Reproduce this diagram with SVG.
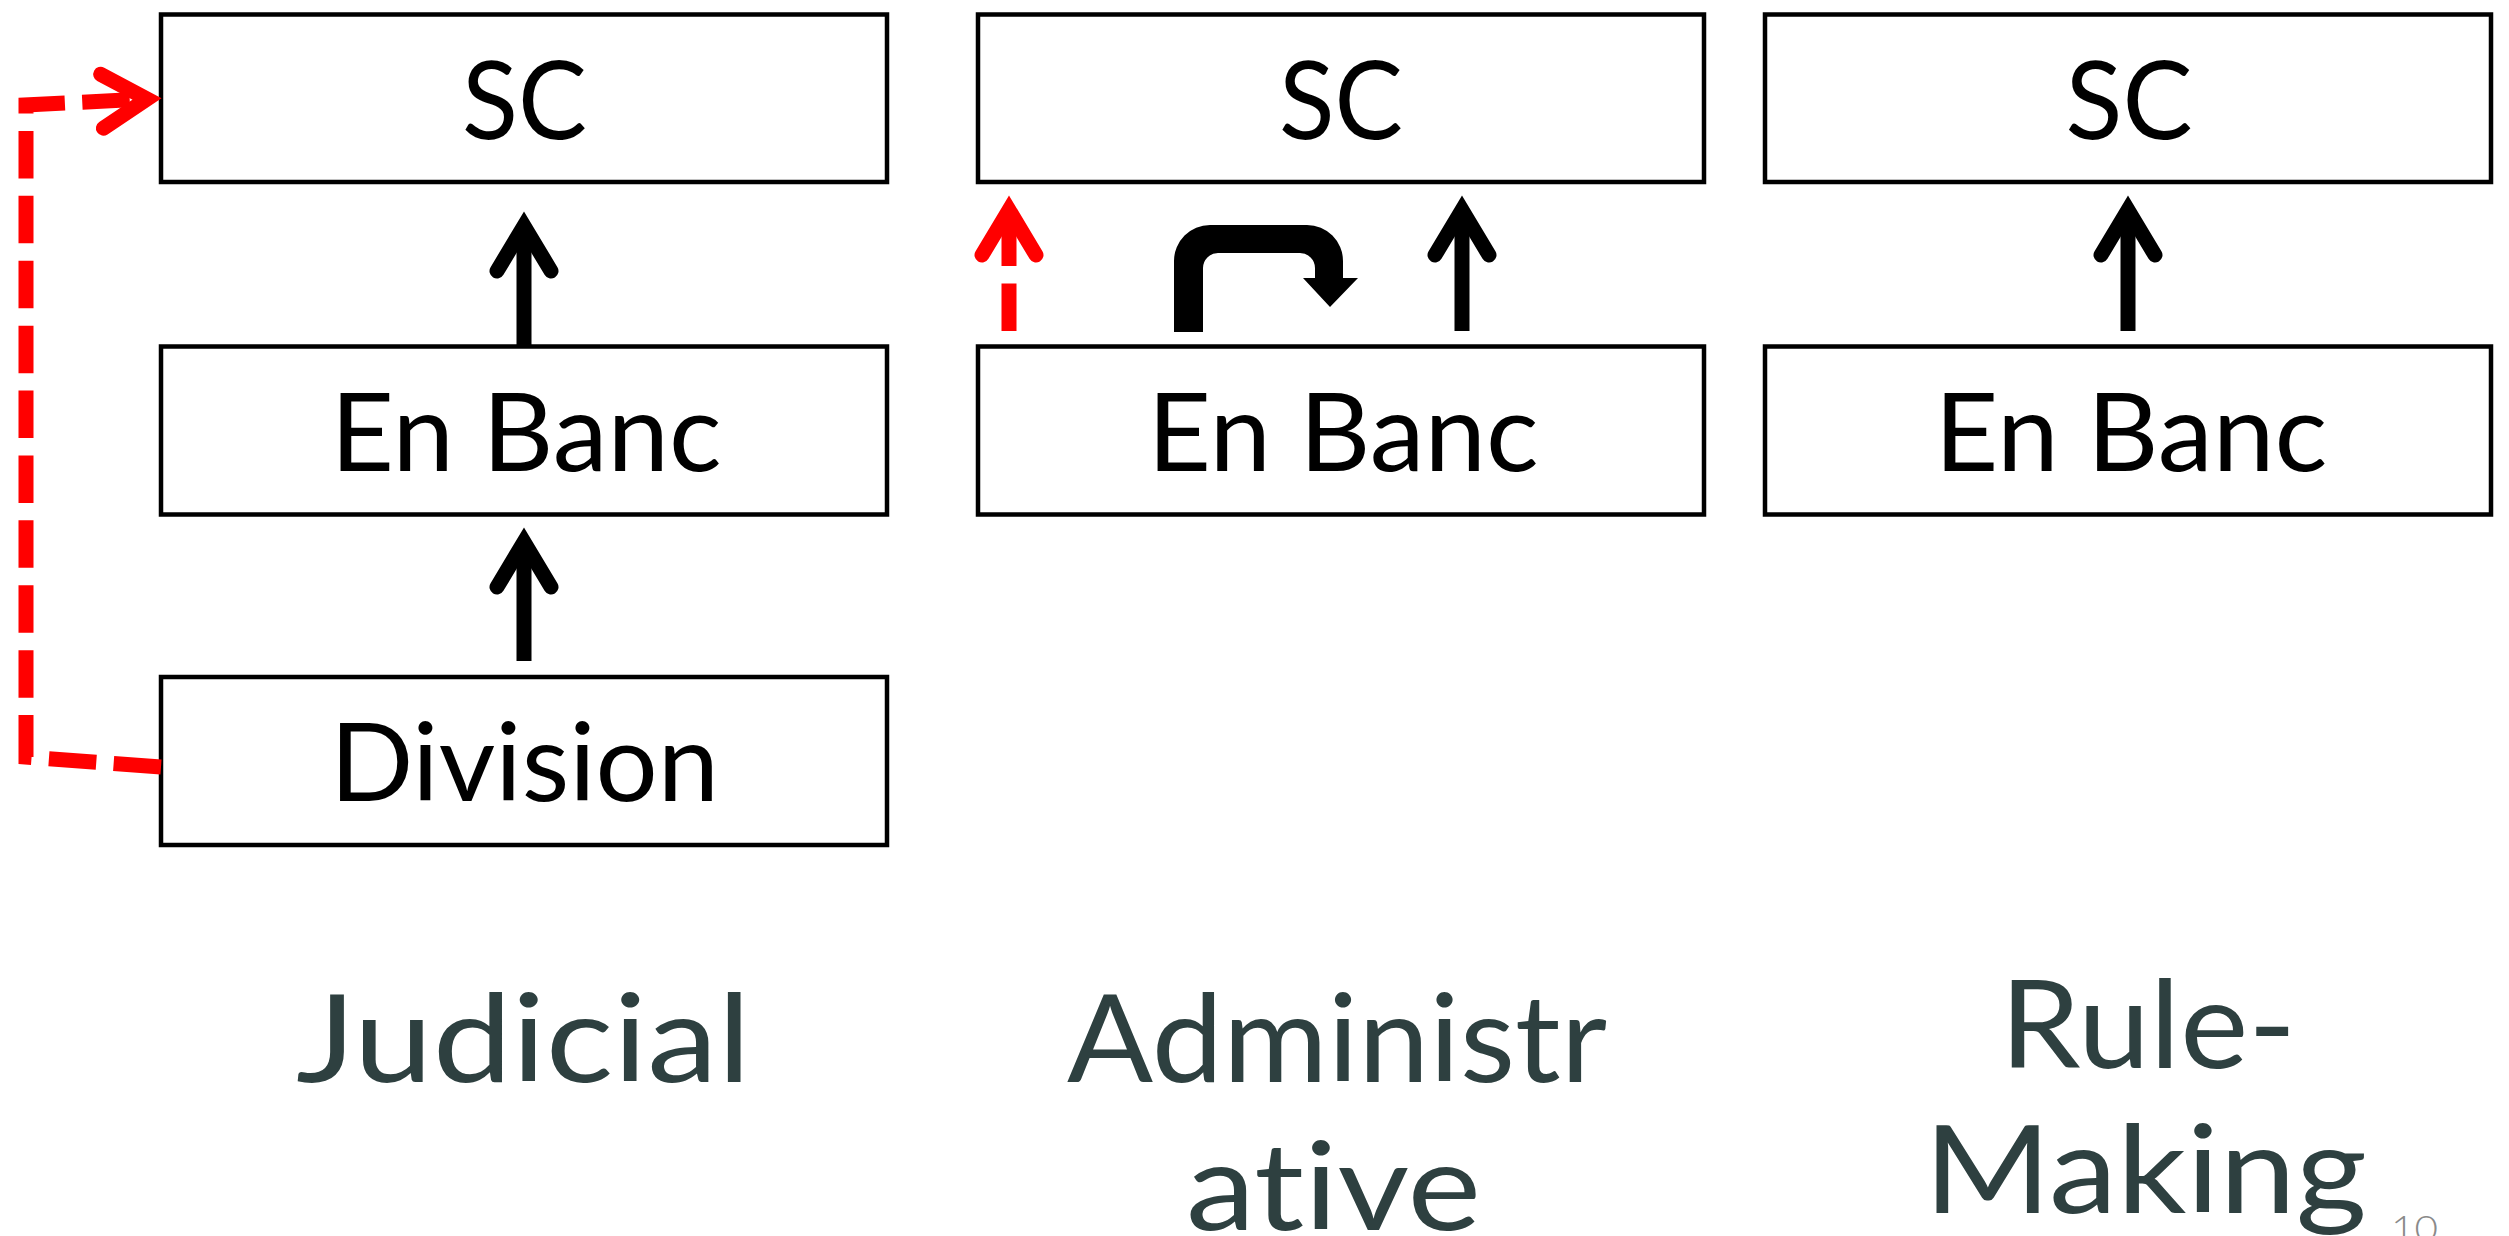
<svg xmlns="http://www.w3.org/2000/svg" width="2509" height="1236" viewBox="0 0 2509 1236">
<style>
  .box { fill: #ffffff; stroke: #000000; stroke-width: 4.5; }
  .btxt { font-family: Lato, "Open Sans", "Liberation Sans", sans-serif; font-size: 109px; fill: #000000; text-anchor: middle; }
  .lbl { font-family: Lato, "Liberation Sans", sans-serif; font-weight: 400; font-size: 122px; fill: #2E4040; text-anchor: middle; font-variant-ligatures: none; font-feature-settings: "liga" 0, "clig" 0; }
  .pg { font-family: Lato, "Liberation Sans", sans-serif; font-weight: 300; font-size: 36px; fill: #8A8A8A; }
  .arr { fill: none; stroke: #000000; stroke-width: 15; }
  .red { fill: none; stroke: #FF0000; stroke-width: 15; stroke-dasharray: 47.5 17.4; }
</style>
<defs>
  <marker id="ahB" markerUnits="userSpaceOnUse" orient="auto" overflow="visible" style="overflow:visible" markerWidth="10" markerHeight="10" refX="0" refY="0">
    <path d="M-45,-27 L0,0 L-45,27" fill="none" stroke="#000000" stroke-width="15" stroke-linecap="round" stroke-linejoin="miter"/>
  </marker>
  <marker id="ahR" markerUnits="userSpaceOnUse" orient="auto" overflow="visible" style="overflow:visible" markerWidth="10" markerHeight="10" refX="0" refY="0">
    <path d="M-45,-27 L0,0 L-45,27" fill="none" stroke="#FF0000" stroke-width="15" stroke-linecap="round" stroke-linejoin="miter"/>
  </marker>
</defs>
<rect width="2509" height="1236" fill="#ffffff"/>

<g id="judicial-sc">
  <rect class="box" x="161" y="14.5" width="726" height="167.5"/>
  <text class="btxt" x="524.5" y="139" textLength="125" lengthAdjust="spacingAndGlyphs">SC</text>
</g>
<g id="judicial-enbanc">
  <rect class="box" x="161" y="346.5" width="726" height="168"/>
  <text class="btxt" x="526" y="470.5" textLength="391" lengthAdjust="spacingAndGlyphs">En Banc</text>
</g>
<g id="judicial-division">
  <rect class="box" x="161" y="677" width="726" height="168"/>
  <text class="btxt" x="524.5" y="801" textLength="389" lengthAdjust="spacingAndGlyphs">Division</text>
</g>

<g id="admin-sc">
  <rect class="box" x="978" y="14.5" width="726" height="167.5"/>
  <text class="btxt" x="1341" y="139" textLength="124" lengthAdjust="spacingAndGlyphs">SC</text>
</g>
<g id="admin-enbanc">
  <rect class="box" x="978" y="346.5" width="726" height="168"/>
  <text class="btxt" x="1343" y="470.5" textLength="391" lengthAdjust="spacingAndGlyphs">En Banc</text>
</g>

<g id="rule-sc">
  <rect class="box" x="1765" y="14.5" width="726" height="167.5"/>
  <text class="btxt" x="2129" y="139" textLength="127" lengthAdjust="spacingAndGlyphs">SC</text>
</g>
<g id="rule-enbanc">
  <rect class="box" x="1765" y="346.5" width="726" height="168"/>
  <text class="btxt" x="2131" y="470.5" textLength="393" lengthAdjust="spacingAndGlyphs">En Banc</text>
</g>

<g id="connectors">
  <path class="arr" d="M524,346 L524,226" marker-end="url(#ahB)"/>
  <path class="arr" d="M524,661 L524,542" marker-end="url(#ahB)"/>
  <path class="red" d="M161,767 L26,757 L26,105 L147,99" marker-end="url(#ahR)"/>
  <path class="red" d="M1009,331 L1009,210" marker-end="url(#ahR)"/>
  <path class="arr" d="M1462,331 L1462,210" marker-end="url(#ahB)"/>
  <path d="M1174,332 L1174,261 A36,36 0 0 1 1210,225 L1307,225 A36,36 0 0 1 1343,261 L1343,278 L1358,278 L1330,307 L1303,278 L1315,278 L1315,268 A15,15 0 0 0 1300,253 L1218,253 A15,15 0 0 0 1203,268 L1203,332 Z" fill="#000000"/>
  <path class="arr" d="M2128,331 L2128,210" marker-end="url(#ahB)"/>
</g>

<g id="labels">
  <text class="lbl" x="523.5" y="1082" textLength="455" lengthAdjust="spacingAndGlyphs">Judicial</text>
  <text class="lbl" x="1337" y="1082" textLength="540" lengthAdjust="spacingAndGlyphs">Administr</text>
  <text class="lbl" x="1333.5" y="1230" textLength="295" lengthAdjust="spacingAndGlyphs">ative</text>
  <text class="lbl" x="2148" y="1068" textLength="296" lengthAdjust="spacingAndGlyphs">Rule-</text>
  <text class="lbl" x="2145.5" y="1213" textLength="443" lengthAdjust="spacingAndGlyphs">Making</text>
  <text class="pg" x="2391" y="1241" textLength="47" lengthAdjust="spacingAndGlyphs">10</text>
</g>
</svg>
